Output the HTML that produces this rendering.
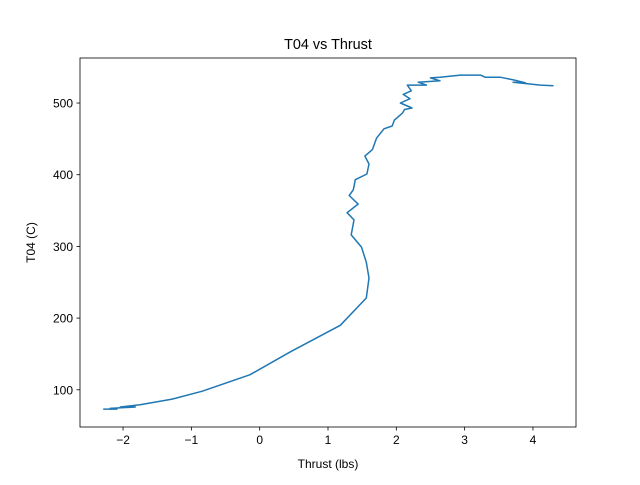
<!DOCTYPE html>
<html><head><meta charset="utf-8"><style>
body{margin:0;background:#fff}
text{font-family:"Liberation Sans","DejaVu Sans",sans-serif;fill:#000}
</style></head><body>
<svg id="chart" width="640" height="480" xmlns="http://www.w3.org/2000/svg">
<rect width="640" height="480" fill="#fff"/>
<text x="328" y="49" font-size="14.4" text-anchor="middle">T04 vs Thrust</text>
<g id="ticks"></g>
<path id="line" fill="none" stroke="#1f77b4" stroke-width="1.5" stroke-linejoin="round"/>
<rect x="80" y="58" width="496" height="369" fill="none" stroke="#000" stroke-width="0.8"/>
<text x="328" y="468" font-size="12" text-anchor="middle">Thrust (lbs)</text>
<text transform="translate(35,242.5) rotate(-90)" font-size="12" text-anchor="middle">T04 (C)</text>
</svg>
<script>
const thrust=[-2.29,-2.09,-2.19,-1.82,-2.04,-1.75,-1.28,-0.84,-0.14,0.45,1.18,1.56,1.60,1.56,1.49,1.34,1.38,1.28,1.44,1.31,1.37,1.40,1.57,1.60,1.54,1.65,1.71,1.82,1.94,1.97,2.09,2.12,2.23,2.06,2.20,2.10,2.22,2.16,2.44,2.32,2.64,2.50,2.64,2.94,3.23,3.30,3.52,3.73,3.89,3.71,4.11,4.30];
const t04=[73,73,74,76,76,79,87,98,121,153,190,228,256,278,299,316,337,347,359,371,379,393,401,415,426,435,451,464,468,476,486,491,493,500,506,512,517,525,525,529,531,535,536,539,539,536,536,532,528,529,525,524];
const xTicks=[-2,-1,0,1,2,3,4];
const yTicks=[100,200,300,400,500];
const xMin=-2.63,xMax=4.63,yMin=48.1,yMax=562.8;
const L=80,R=576,T=58,B=427;
function sx(v){return L+(v-xMin)/(xMax-xMin)*(R-L);}
function sy(v){return B-(v-yMin)/(yMax-yMin)*(B-T);}
const NS="http://www.w3.org/2000/svg";
const g=document.getElementById('ticks');
xTicks.forEach(t=>{
  const x=sx(t);
  const l=document.createElementNS(NS,'line');
  l.setAttribute('x1',x);l.setAttribute('x2',x);l.setAttribute('y1',B);l.setAttribute('y2',B+3.5);l.setAttribute('stroke','#000');l.setAttribute('stroke-width','0.8');
  
  
  g.appendChild(l);
  const tx=document.createElementNS(NS,'text');
  tx.setAttribute('x',x);tx.setAttribute('y',B+17);tx.setAttribute('font-size','12');tx.setAttribute('text-anchor','middle');
  tx.textContent=t<0?'\u2212'+Math.abs(t):String(t);
  
  
  g.appendChild(tx);
});
yTicks.forEach(t=>{
  const y=sy(t);
  const l=document.createElementNS(NS,'line');
  l.setAttribute('x1',L-3.5);l.setAttribute('x2',L);l.setAttribute('y1',y);l.setAttribute('y2',y);l.setAttribute('stroke','#000');l.setAttribute('stroke-width','0.8');
  
  
  g.appendChild(l);
  const tx=document.createElementNS(NS,'text');
  tx.setAttribute('x',L-7);tx.setAttribute('y',y+4.5);tx.setAttribute('font-size','12');tx.setAttribute('text-anchor','end');
  tx.textContent=String(t);
  
  
  g.appendChild(tx);
});
document.getElementById('line').setAttribute('d',thrust.map((v,i)=>(i?'L':'M')+sx(v).toFixed(1)+' '+sy(t04[i]).toFixed(1)).join(' '));
</script>
</body></html>
